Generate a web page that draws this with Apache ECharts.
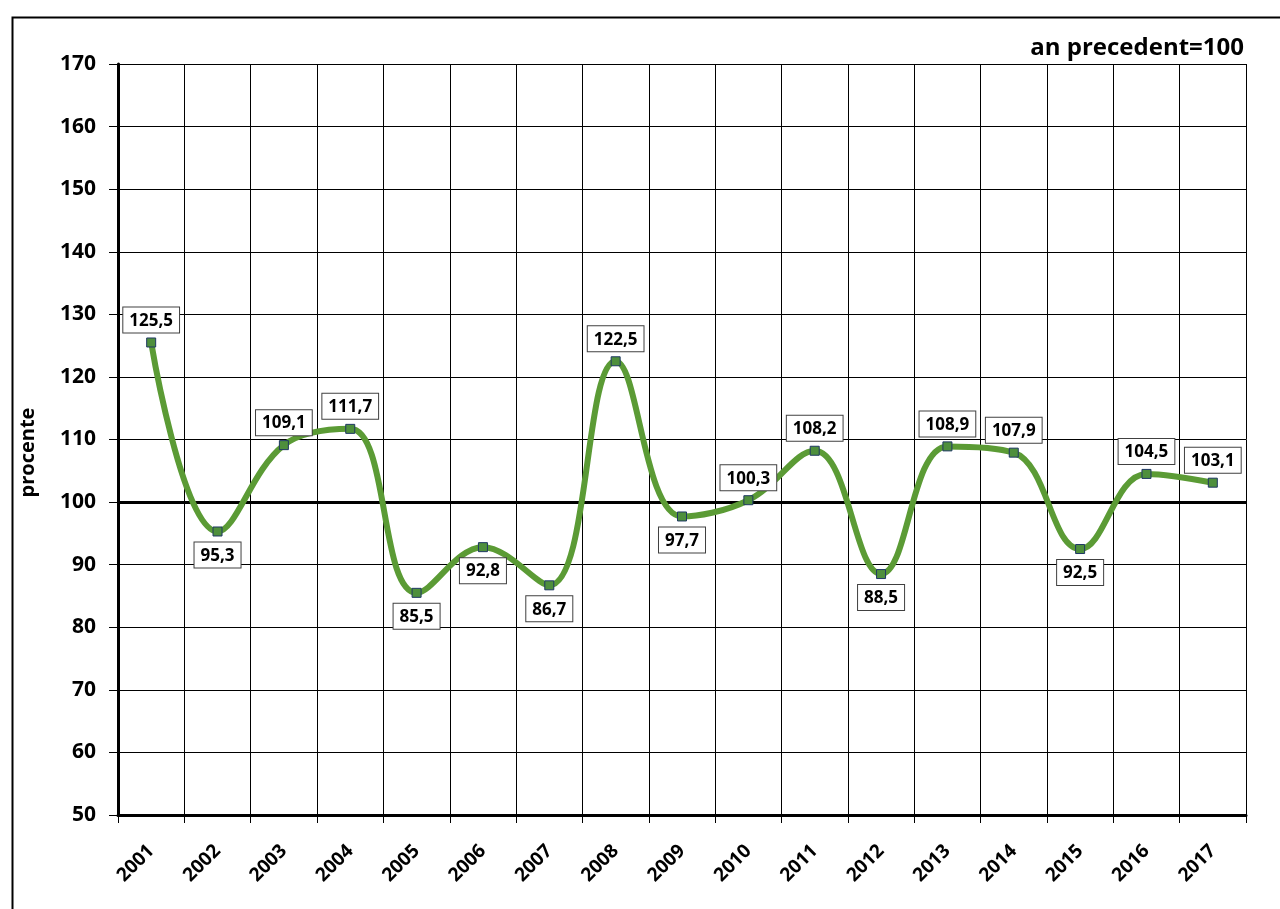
<!DOCTYPE html>
<html>
<head>
<meta charset="utf-8">
<script src="https://cdn.jsdelivr.net/npm/echarts@6/dist/echarts.min.js"></script>
<style>
html, body { margin: 0; padding: 0; background: #fff; }
#chart { width: 1280px; height: 909px; }
</style>
</head>
<body>
<div id="chart"></div>
<script>
let years = ['2001', '2002', '2003', '2004', '2005', '2006', '2007', '2008', '2009',
    '2010', '2011', '2012', '2013', '2014', '2015', '2016', '2017']
let values = [125.5, 95.3, 109.1, 111.7, 85.5, 92.8, 86.7, 122.5, 97.7,
    100.3, 108.2, 88.5, 108.9, 107.9, 92.5, 104.5, 103.1]
let yTicks = [50, 60, 70, 80, 90, 100, 110, 120, 130, 140, 150, 160, 170]
// ani cu eticheta sub punct
let labelBelow = ['2002', '2005', '2006', '2007', '2009', '2012', '2015']

let font = '"Open Sans", "DejaVu Sans", sans-serif'
let mychart = echarts.init(document.getElementById('chart'))

let seriesData = values.map((v, i) => ({
    value: v,
    label: {
        position: labelBelow.includes(years[i]) ? 'bottom' : 'top',
        distance: labelBelow.includes(years[i]) ? 6 : 5
    }
}))

let options = {
    animation: false,
    textStyle: { fontFamily: font },
    title: {
        text: 'an precedent=100',
        right: 31,
        top: 31,
        textStyle: { fontSize: 24, fontWeight: 'bold', color: '#000', fontFamily: font }
    },
    graphic: [{
        type: 'rect',
        left: 10,
        top: 15,
        shape: { width: 1300, height: 920 },
        style: { fill: 'none', stroke: '#000', lineWidth: 2 },
        z: -1
    }],
    grid: { left: 118, right: 34, top: 64, bottom: 94 },
    xAxis: {
        type: 'category',
        data: years,
        boundaryGap: true,
        axisLine: { show: true, lineStyle: { color: '#000', width: 3 } },
        axisTick: { show: true, length: 8, lineStyle: { color: '#000', width: 1 } },
        axisLabel: {
            rotate: 45,
            margin: 33,
            fontSize: 19,
            fontWeight: 'bold',
            color: '#000',
            fontFamily: font,
            interval: 0
        },
        splitLine: { show: true, lineStyle: { color: '#000', width: 1 } }
    },
    yAxis: {
        type: 'value',
        min: yTicks[0],
        max: yTicks[yTicks.length - 1],
        interval: 10,
        name: 'procente',
        nameLocation: 'middle',
        nameGap: 80,
        nameTextStyle: { fontSize: 20, fontWeight: 'bold', color: '#000', fontFamily: font, padding: [0, 0, 0, -26] },
        axisLine: { show: true, lineStyle: { color: '#000', width: 3 } },
        axisTick: { show: true, length: 9, lineStyle: { color: '#000', width: 1 } },
        axisLabel: { margin: 22, fontSize: 21, fontWeight: 'bold', color: '#000', fontFamily: font },
        splitLine: { show: true, lineStyle: { color: '#000', width: 1 } }
    },
    series: [{
        type: 'line',
        data: seriesData,
        smooth: 0.4,
        symbol: 'rect',
        symbolSize: 9,
        itemStyle: { color: '#4e8f3c', borderColor: '#1f3864', borderWidth: 1 },
        lineStyle: { color: '#5b9b35', width: 6 },
        label: {
            show: true,
            formatter: p => String(p.value).replace('.', ','),
            fontSize: 17,
            fontWeight: 'bold',
            color: '#000',
            fontFamily: font,
            backgroundColor: '#fff',
            borderColor: '#404040',
            borderWidth: 1,
            padding: [5, 6, 3, 6]
        },
        markLine: {
            silent: true,
            symbol: 'none',
            label: { show: false },
            lineStyle: { color: '#000', width: 3, type: 'solid' },
            data: [{ yAxis: 100 }],
            z: 1
        },
        z: 3
    }]
}
mychart.setOption(options)
window.addEventListener('resize', () => {
    mychart?.resize()
})
</script>
</body>
</html>
